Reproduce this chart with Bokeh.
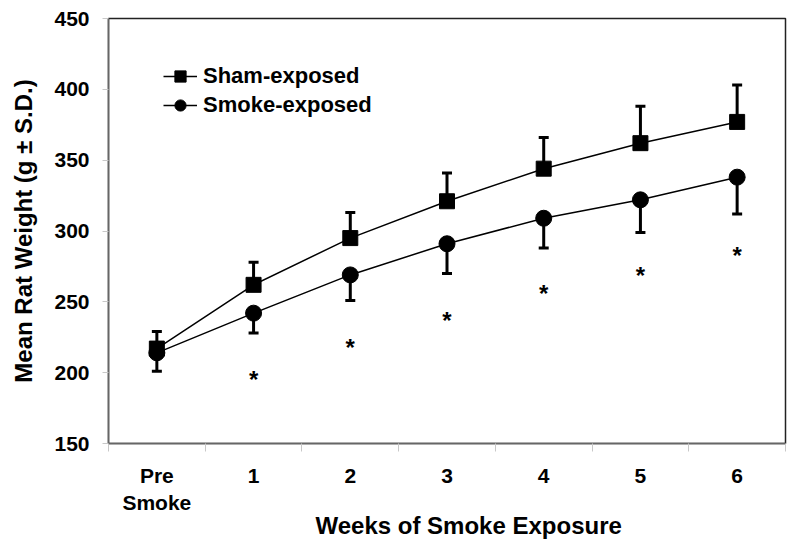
from bokeh.plotting import figure
from bokeh.models import Range1d, FixedTicker, Legend, LegendItem, ColumnDataSource, Title
from bokeh.core.properties import value
from bokeh.embed import file_html
from bokeh.resources import INLINE

# ---- data ----
categories = ["Pre\nSmoke", "1", "2", "3", "4", "5", "6"]
sham_mean = [217, 262, 295, 321, 344, 362, 377]
sham_sd = [12, 16, 18, 20, 22, 26, 26]
smoke_mean = [214, 242, 269, 291, 309, 322, 338]
smoke_sd = [13, 14, 18, 21, 21, 23, 26]
star_weeks = ["1", "2", "3", "4", "5", "6"]
star_y = [197, 220, 239, 258, 271, 285]
y_ticks = [150, 200, 250, 300, 350, 400, 450]

FONT = "Liberation Sans"

xc = [i + 0.5 for i in range(len(categories))]
star_x = [categories.index(w) + 0.5 for w in star_weeks]

p = figure(width=790, height=540, output_backend="svg", toolbar_location=None,
           x_range=Range1d(0, len(categories)), y_range=Range1d(150, 450),
           min_border_left=108, min_border_right=5, min_border_top=18, min_border_bottom=97)
p.grid.visible = False
p.background_fill_color = "white"
p.border_fill_color = "white"
p.outline_line_color = "#222222"
p.outline_line_width = 1.5

# axes
p.xaxis.ticker = FixedTicker(ticks=xc, minor_ticks=list(range(len(categories) + 1)))
p.xaxis.major_label_overrides = {x: c for x, c in zip(xc, categories)}
p.xaxis.major_tick_line_color = None
p.xaxis.major_tick_out = 0
p.xaxis.major_tick_in = 0
p.xaxis.minor_tick_out = 8
p.xaxis.minor_tick_in = 0
p.xaxis.minor_tick_line_color = "#c8c8c8"
p.xaxis.major_label_standoff = 12

p.yaxis.ticker = FixedTicker(ticks=y_ticks)
p.yaxis.minor_tick_line_color = None
p.yaxis.major_tick_out = 6
p.yaxis.major_tick_in = 0
p.yaxis.major_tick_line_color = "#c8c8c8"
p.yaxis.major_label_standoff = 13
p.yaxis.axis_label = "Mean Rat Weight (g \u00b1 S.D.)"
p.yaxis.axis_label_standoff = 14

for ax in (p.xaxis, p.yaxis):
    ax.axis_line_color = "#666666"
    ax.axis_line_width = 1.5
    ax.major_label_text_font = FONT
    ax.major_label_text_font_style = "bold"
    ax.major_label_text_font_size = "21px"
    ax.major_label_text_color = "black"
    ax.axis_label_text_font = FONT
    ax.axis_label_text_font_style = "bold"
    ax.axis_label_text_font_size = "24px"
    ax.axis_label_text_color = "black"

xtitle = Title(text="Weeks of Smoke Exposure", align="left", offset=207, standoff=-16,
               text_font=FONT, text_font_style="bold", text_font_size="24px", text_color="black")
p.add_layout(xtitle, "below")

src = ColumnDataSource(dict(
    x=xc,
    sham=sham_mean,
    sham_top=[m + s for m, s in zip(sham_mean, sham_sd)],
    smoke=smoke_mean,
    smoke_bot=[m - s for m, s in zip(smoke_mean, smoke_sd)],
))

# error bars
p.segment(x0="x", y0="sham", x1="x", y1="sham_top", source=src, line_color="black", line_width=3)
p.scatter(x="x", y="sham_top", source=src, marker="dash", size=10, line_color="black", line_width=3)
p.segment(x0="x", y0="smoke", x1="x", y1="smoke_bot", source=src, line_color="black", line_width=3)
p.scatter(x="x", y="smoke_bot", source=src, marker="dash", size=10, line_color="black", line_width=3)

# series
l1 = p.line(x="x", y="sham", source=src, line_color="black", line_width=1.5)
m1 = p.scatter(x="x", y="sham", source=src, marker="square", size=15, fill_color="black", line_color="black")
l2 = p.line(x="x", y="smoke", source=src, line_color="black", line_width=1.5)
m2 = p.scatter(x="x", y="smoke", source=src, marker="circle", size=16, fill_color="black", line_color="black")

# significance stars
p.text(x=star_x, y=star_y, text=["*"] * len(star_x), text_align="center", text_baseline="alphabetic",
       y_offset=3, text_font=value(FONT), text_font_style="bold", text_font_size="24px", text_color="black")

legend = Legend(items=[LegendItem(label="Sham-exposed", renderers=[l1, m1]),
                       LegendItem(label="Smoke-exposed", renderers=[l2, m2])],
                location=(55, 324), margin=0, padding=0, spacing=1,
                glyph_width=34, glyph_height=28, label_standoff=6,
                label_text_font=FONT, label_text_font_style="bold", label_text_font_size="22px",
                label_text_color="black", border_line_color=None, background_fill_alpha=0)
p.add_layout(legend)

open("out.html", "w").write(file_html(p, INLINE))
